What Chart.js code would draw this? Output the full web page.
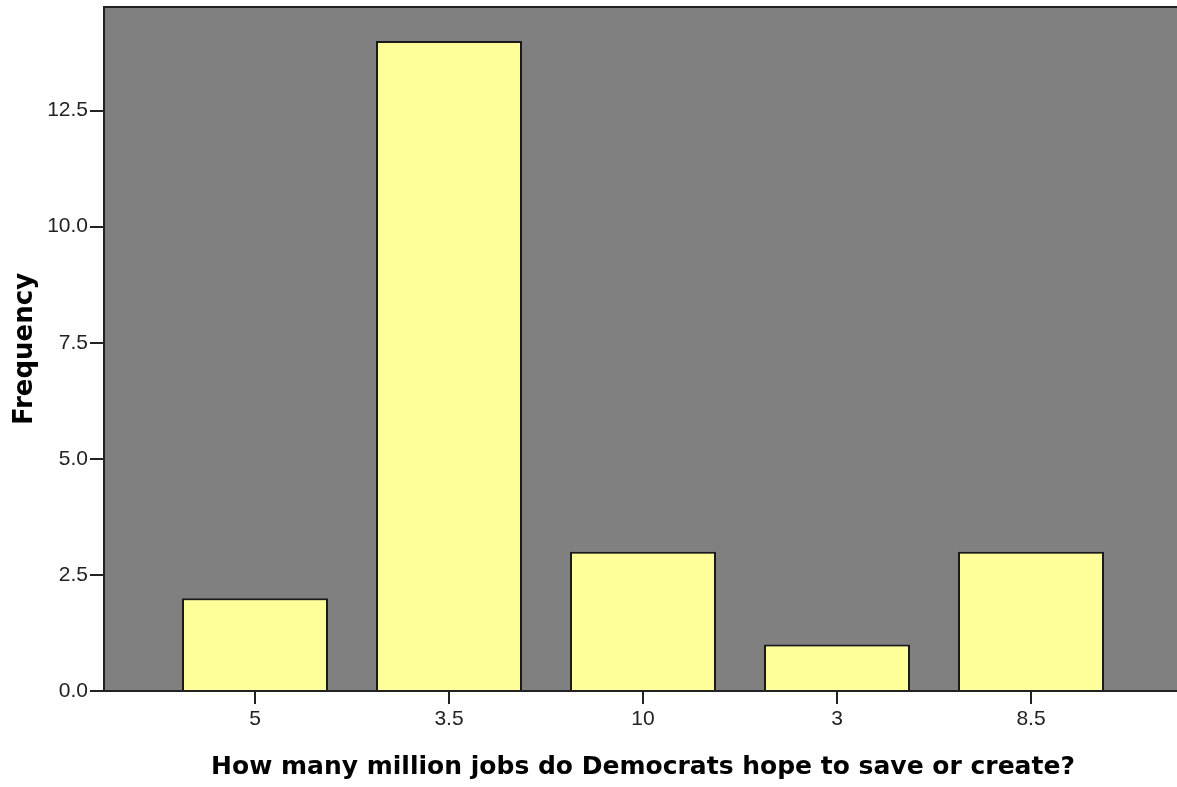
<!DOCTYPE html>
<html>
<head>
<meta charset="utf-8">
<script src="https://cdn.jsdelivr.net/npm/chart.js@4"></script>
<style>
  html, body { margin: 0; padding: 0; background: #fff; overflow: hidden; }
  #wrap { width: 1182px; height: 787px; }
</style>
</head>
<body>
<div id="wrap"><canvas id="freqChart" width="1182" height="787"></canvas></div>
<script>
// answers and how many times each was given
const categories = ["5", "3.5", "10", "3", "8.5"];
const frequencies = [2, 14, 3, 1, 3];
const yTicks = [0, 2.5, 5, 7.5, 10, 12.5];

const canvas = document.querySelector("#freqChart");

// grey plot background with a dark frame, drawn under the bars
const plotBackground = {
    id: "plotBackground",
    beforeDatasetsDraw(chart) {
        const { ctx, chartArea: a } = chart;
        ctx.save();
        ctx.fillStyle = "#808080";
        ctx.fillRect(a.left, a.top, a.right - a.left, a.bottom - a.top);
        ctx.strokeStyle = "#222";
        ctx.lineWidth = 2;
        ctx.strokeRect(a.left, a.top, a.right - a.left, a.bottom - a.top);
        ctx.restore();
    }
};

new Chart(canvas, {
    type: "bar",
    data: {
        datasets: [{
            label: "Frequency",
            data: frequencies.map((f, i) => ({ x: i + 1, y: f })),
            backgroundColor: "#FFFF99",
            borderColor: "#1a1a1a",
            borderWidth: 2,
            barPercentage: 0.7526,
            categoryPercentage: 1
        }]
    },
    options: {
        responsive: false,
        animation: false,
        devicePixelRatio: 1,
        layout: { padding: { top: 7, right: 0, left: 0, bottom: 0 } },
        plugins: {
            legend: { display: false },
            tooltip: { enabled: false }
        },
        scales: {
            x: {
                type: "linear",
                offset: false,
                min: 0.2216,
                max: 5.7784,
                afterBuildTicks: scale => {
                    scale.ticks = categories.map((c, i) => ({ value: i + 1 }));
                },
                afterFit: scale => {
                    scale.height = 96;
                    scale.paddingLeft = 0;
                    scale.paddingRight = 0;
                },
                ticks: {
                    autoSkip: false,
                    maxRotation: 0,
                    color: "#222",
                    font: { family: "Liberation Sans", size: 21 },
                    padding: 3,
                    callback: v => categories[v - 1]
                },
                grid: {
                    offset: false,
                    drawOnChartArea: false,
                    drawTicks: true,
                    tickLength: 13,
                    color: "#222",
                    lineWidth: 2
                },
                border: { color: "#222", width: 2 },
                title: {
                    display: true,
                    text: "How many million jobs do Democrats hope to save or create?",
                    color: "#000",
                    font: { family: "DejaVu Sans", size: 25, weight: "bold" },
                    padding: { top: 0, bottom: 5 }
                }
            },
            y: {
                min: 0,
                max: 14.73,
                afterBuildTicks: scale => {
                    scale.ticks = yTicks.map(v => ({ value: v }));
                },
                afterFit: scale => {
                    scale.width = 104;
                    scale.paddingTop = 0;
                    scale.paddingBottom = 0;
                },
                ticks: {
                    color: "#222",
                    font: { family: "Liberation Sans", size: 21 },
                    padding: 2,
                    callback: v => Number(v).toFixed(1)
                },
                grid: {
                    drawOnChartArea: false,
                    drawTicks: true,
                    tickLength: 14,
                    color: "#222",
                    lineWidth: 2
                },
                border: { color: "#222", width: 2 },
                title: {
                    display: true,
                    text: "Frequency",
                    color: "#000",
                    font: { family: "DejaVu Sans", size: 26, weight: "bold" },
                    padding: { top: 10, bottom: 0 }
                }
            }
        }
    },
    plugins: [plotBackground]
});
</script>
</body>
</html>
